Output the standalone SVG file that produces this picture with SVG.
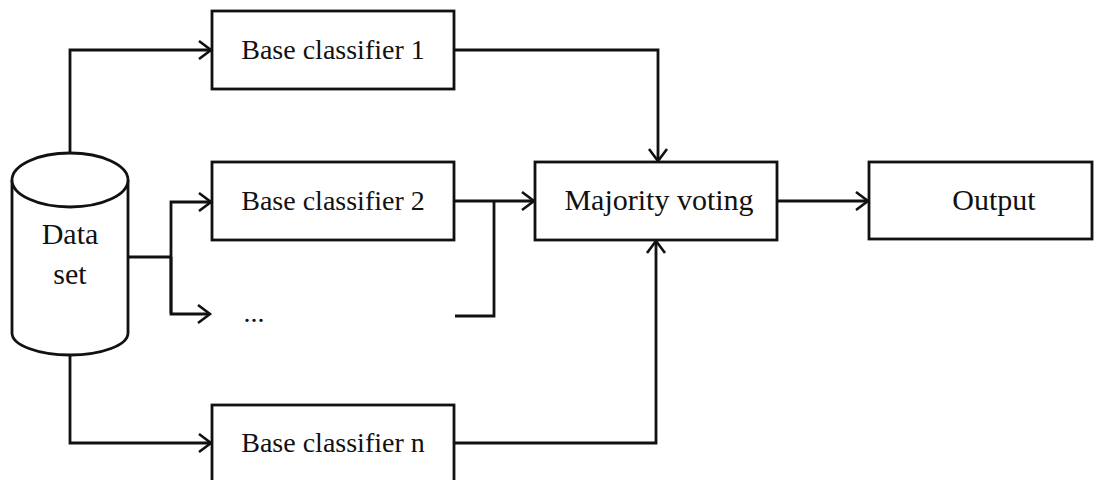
<svg xmlns="http://www.w3.org/2000/svg" width="1104" height="480" viewBox="0 0 1104 480">
<style>
.box{fill:#fff;stroke:#111;stroke-width:2.8}
.lbl{font-family:"Liberation Serif",serif;font-size:28px;fill:#111;text-anchor:middle}
.big{font-size:30px}
.ln{fill:none;stroke:#111;stroke-width:2.8}
</style>
<defs>
<marker id="ah" markerWidth="16" markerHeight="22" refX="13" refY="11" orient="auto" markerUnits="userSpaceOnUse">
<path d="M1,2 L13,11 L1,20" fill="none" stroke="#111" stroke-width="2.6"/>
</marker>
</defs>
<rect width="1104" height="480" fill="#fff"/>
<g id="connectors">
<path class="ln" d="M70,153 V50 H211" marker-end="url(#ah)"/>
<path class="ln" d="M128,257 H171"/>
<path class="ln" d="M171,313 V202 H211" marker-end="url(#ah)"/>
<path class="ln" d="M171,257 V314 H210" marker-end="url(#ah)"/>
<path class="ln" d="M70,355 V443 H211" marker-end="url(#ah)"/>
<path class="ln" d="M455,50 H658 V161" marker-end="url(#ah)"/>
<path class="ln" d="M455,201 H534" marker-end="url(#ah)"/>
<path class="ln" d="M455,316 H494 V201"/>
<path class="ln" d="M455,443 H656 V241" marker-end="url(#ah)"/>
<path class="ln" d="M777,201 H868" marker-end="url(#ah)"/>
</g>
<g id="dataset">
<path class="box" d="M12,180 V333 A58,22 0 0 0 128,333 V180"/>
<ellipse class="box" cx="70" cy="180" rx="58" ry="27"/>
<text class="lbl big" x="70" y="244">Data</text>
<text class="lbl big" x="70" y="284">set</text>
</g>
<g id="base1">
<rect class="box" x="212" y="11" width="242" height="78"/>
<text class="lbl" x="333" y="59">Base classifier 1</text>
</g>
<g id="base2">
<rect class="box" x="212" y="162" width="242" height="78"/>
<text class="lbl" x="333" y="210">Base classifier 2</text>
</g>
<g id="dots">
<text class="lbl" x="254" y="322">...</text>
</g>
<g id="basen">
<rect class="box" x="212" y="405" width="242" height="90"/>
<text class="lbl" x="333" y="452">Base classifier n</text>
</g>
<g id="majority">
<rect class="box" x="535" y="162" width="242" height="78"/>
<text class="lbl big" x="659" y="210">Majority voting</text>
</g>
<g id="output">
<rect class="box" x="869" y="162" width="223" height="77"/>
<text class="lbl big" x="994" y="210">Output</text>
</g>
</svg>
